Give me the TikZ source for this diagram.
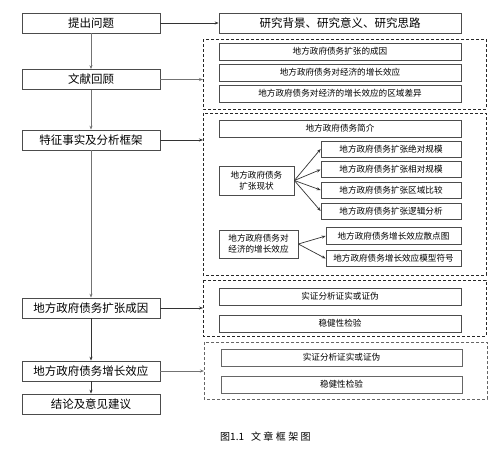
\documentclass[tikz,border=0pt]{standalone}
\usepackage{fontspec}
\setmainfont{Noto Sans CJK SC}
\usetikzlibrary{arrows.meta}
\begin{document}
\begin{tikzpicture}[x=1pt,y=-1pt,
  box/.style={draw=black!70,line width=0.7pt,fill=white,inner sep=0pt,align=center},
  mainbox/.style={box,minimum width=138pt,minimum height=20pt,font=\fontsize{11.5}{13}\selectfont},
  subbox/.style={box,font=\fontsize{8.6}{11}\selectfont},
  dbox/.style={draw=black!85,line width=0.8pt,dash pattern=on 3pt off 2pt},
  arr/.style={draw=black!55,line width=0.9pt,-{Stealth[length=4pt,width=3pt]}},
  arrk/.style={draw=black!80,line width=0.7pt,-{Stealth[length=4pt,width=3pt]}}
]
\useasboundingbox[fill=white] (0,0) rectangle (504,459);

% dashed groups
\draw[dbox] (203,39) rectangle (486,109);
\coordinate (d1w) at (203,79.5);
\draw[dbox] (203,113) rectangle (486,275);
\coordinate (d2w) at (203,140);
\draw[dbox] (203,280) rectangle (486,336);
\coordinate (d3w) at (203,308);
\draw[dbox,draw=black!60,line width=0.6pt] (204,342) rectangle (487,399);
\coordinate (d4w) at (204,371);

% left column
\node[mainbox] (a1) at (91,23) {提出问题};
\node[mainbox] (a2) at (91,79.5) {文献回顾};
\node[mainbox] (a3) at (91,140) {特征事实及分析框架};
\node[mainbox] (a4) at (91,308) {地方政府债务扩张成因};
\node[mainbox] (a5) at (91,371) {地方政府债务增长效应};
\node[mainbox] (a6) at (91,404) {结论及意见建议};

% right column
\node[box,minimum width=242pt,minimum height=20pt,font=\fontsize{11.5}{13}\selectfont] (r0) at (340,23) {研究背景、研究意义、研究思路};

\node[subbox,minimum width=242pt,minimum height=17pt] (b11) at (340,51.5) {地方政府债务扩张的成因};
\node[subbox,minimum width=242pt,minimum height=17pt] (b12) at (340,72.5) {地方政府债务对经济的增长效应};
\node[subbox,minimum width=242pt,minimum height=17pt] (b13) at (340,93.5) {地方政府债务对经济的增长效应的区域差异};

\node[subbox,minimum width=242pt,minimum height=17pt] (b21) at (340,128.5) {地方政府债务简介};
\node[subbox,minimum width=75pt,minimum height=29pt] (s1) at (256.5,180.5) {地方政府债务\\扩张现状};
\node[subbox,minimum width=140pt,minimum height=16pt] (c1) at (391,149) {地方政府债务扩张绝对规模};
\node[subbox,minimum width=140pt,minimum height=16pt] (c2) at (391,169.5) {地方政府债务扩张相对规模};
\node[subbox,minimum width=140pt,minimum height=16pt] (c3) at (391,190) {地方政府债务扩张区域比较};
\node[subbox,minimum width=140pt,minimum height=16pt] (c4) at (391,211) {地方政府债务扩张逻辑分析};
\node[subbox,minimum width=79pt,minimum height=28pt] (s2) at (258.5,244) {地方政府债务对\\经济的增长效应};
\node[subbox,minimum width=135pt,minimum height=16.5pt] (e1) at (393.5,236) {地方政府债务增长效应散点图};
\node[subbox,minimum width=135pt,minimum height=16.5pt] (e2) at (393.5,258.5) {地方政府债务增长效应模型符号};

\node[subbox,minimum width=242pt,minimum height=17pt] (f1) at (340,296.5) {实证分析证实或证伪};
\node[subbox,minimum width=242pt,minimum height=17pt] (f2) at (340,323.5) {稳健性检验};

\node[subbox,minimum width=241pt,minimum height=17pt,draw=black!60] (g1) at (341.5,357.5) {实证分析证实或证伪};
\node[subbox,minimum width=241pt,minimum height=17pt,draw=black!60] (g2) at (341.5,384.5) {稳健性检验};

\node[font=\fontsize{10}{12}\selectfont,anchor=west,inner sep=0pt] (cap) at (220,437) {图1.1\hspace{0.7em}文\hspace{2.4pt}章\hspace{2.4pt}框\hspace{2.4pt}架\hspace{2.4pt}图};

% vertical arrows
\draw[arr] (a1) -- (a2);
\draw[arr] (a2) -- (a3);
\draw[arr] (a3) -- (a4);
\draw[arrk] (a4) -- (a5);
\draw[arrk] (a5) -- (a6);

% horizontal arrows
\draw[arrk] (a1) -- (r0);
\draw[arr] (a2.east) -- (d1w);
\draw[arrk] (a3.east) -- (d2w);
\draw[arrk] (a4.east) -- (d3w);
\draw[arr] (a5.east) -- (d4w);

% fan arrows
\foreach \t in {c1,c2,c3,c4} \draw[arrk] (s1.east) -- (\t.west);
\foreach \t in {e1,e2} \draw[arrk] (s2.east) -- (\t.west);
\end{tikzpicture}
\end{document}
